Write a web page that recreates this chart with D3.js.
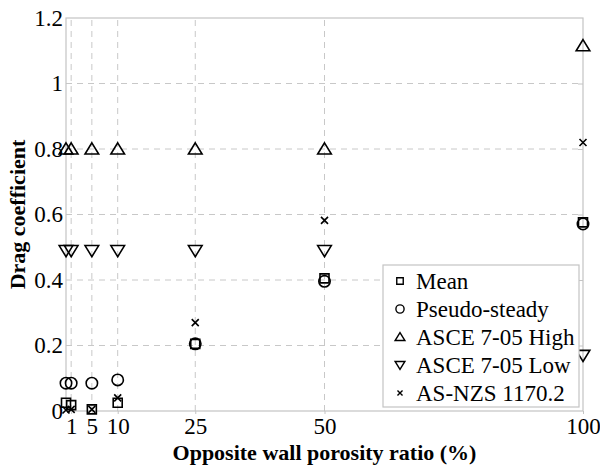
<!DOCTYPE html>
<html>
<head>
<meta charset="utf-8">
<script src="https://cdn.jsdelivr.net/npm/d3@7"></script>
<style>
  body { margin: 0; background: #fff; }
  svg { display: block; font-family: "Liberation Serif", "Times New Roman", serif; }
</style>
</head>
<body>
<svg id="chart" width="600" height="466"></svg>
<script>
"use strict";

// porosity ratio (%) for every column of points
const porosity = [0, 1, 5, 10, 25, 50, 100];
const meanCd = [0.025, 0.018, 0.005, 0.025, 0.205, 0.405, 0.576];
const pseudoSteadyCd = [0.085, 0.085, 0.085, 0.095, 0.205, 0.396, 0.571];
const asceHighCd = [0.8, 0.8, 0.8, 0.8, 0.8, 0.8, 1.115];
const asceLowCd = [0.49, 0.49, 0.49, 0.49, 0.49, 0.49, 0.17];
const asnzsCd = [0.003, 0.005, 0.005, 0.04, 0.27, 0.582, 0.82];

const xTicks = [1, 5, 10, 25, 50, 100];
const yTicks = [0, 0.2, 0.4, 0.6, 0.8, 1, 1.2];
const seriesNames = ["Mean", "Pseudo-steady", "ASCE 7-05 High", "ASCE 7-05 Low", "AS-NZS 1170.2"];

let margins = { top: 18, right: 17, bottom: 55, left: 66 };
let svg = d3.select("#chart");
let width = +svg.attr("width"), height = +svg.attr("height");
let innerW = width - margins.left - margins.right;
let innerH = height - margins.top - margins.bottom;

let xScale = d3.scaleLinear().domain([0, 100]).range([margins.left, margins.left + innerW]);
let yScale = d3.scaleLinear().domain([0, 1.2]).range([margins.top + innerH, margins.top]);

let gridColor = "#c8c8c8";
let frameColor = "#c4c4c4";

// dashed grid
let grid = svg.append("g").attr("class", "grid");
grid.selectAll(".vgrid").data(xTicks.filter(d => d < 100)).enter().append("line")
  .attr("x1", d => xScale(d)).attr("x2", d => xScale(d))
  .attr("y1", yScale(0)).attr("y2", yScale(1.2))
  .style("stroke", gridColor).style("stroke-dasharray", "6,5");
grid.selectAll(".hgrid").data(yTicks.filter(d => d > 0 && d < 1.2)).enter().append("line")
  .attr("x1", xScale(0)).attr("x2", xScale(100))
  .attr("y1", d => yScale(d)).attr("y2", d => yScale(d))
  .style("stroke", gridColor).style("stroke-dasharray", "6,5");

// frame
svg.append("rect")
  .attr("x", xScale(0)).attr("y", yScale(1.2))
  .attr("width", innerW).attr("height", innerH)
  .style("fill", "none").style("stroke", frameColor).style("stroke-width", 1.2);

// axes
let xAxis = d3.axisBottom(xScale).tickValues(xTicks).tickSize(3).tickPadding(4);
let gx = svg.append("g").attr("transform", `translate(0,${yScale(0)})`).call(xAxis);
let yAxis = d3.axisLeft(yScale).tickValues(yTicks).tickSize(0).tickPadding(3)
  .tickFormat(d => d3.format("")(+d.toFixed(1)));
let gy = svg.append("g").attr("transform", `translate(${xScale(0)},0)`).call(yAxis);
let yAxisRight = d3.axisLeft(yScale).tickValues(yTicks.slice(1, -1)).tickSize(5).tickFormat("");
let gyr = svg.append("g").attr("transform", `translate(${xScale(100)},0)`).call(yAxisRight);

[gx, gy, gyr].forEach(g => {
  g.select(".domain").remove();
  g.selectAll(".tick line").style("stroke", frameColor);
  g.selectAll(".tick text").style("font-family", "Liberation Serif").style("font-size", "23px").style("fill", "#000");
});

// axis titles
svg.append("text")
  .attr("x", xScale(50)).attr("y", 460)
  .attr("text-anchor", "middle")
  .style("font-weight", "bold").style("font-size", "22px")
  .text("Opposite wall porosity ratio (%)");
svg.append("text")
  .attr("transform", `translate(25,${yScale(0.6)}) rotate(-90)`)
  .attr("text-anchor", "middle")
  .style("font-weight", "bold").style("font-size", "22px")
  .text("Drag coefficient");

// marker shapes
function markerPath(kind, s) {
  if (kind === "square") return `M${-s},${-s}H${s}V${s}H${-s}Z`;
  if (kind === "circle") return d3.symbol().type(d3.symbolCircle).size(Math.PI * s * s)();
  if (kind === "up") return `M0,${-s}L${s * 1.1},${s * 0.8}L${-s * 1.1},${s * 0.8}Z`;
  if (kind === "down") return `M0,${s}L${s * 1.1},${-s * 0.8}L${-s * 1.1},${-s * 0.8}Z`;
  return `M${-s},${-s}L${s},${s}M${s},${-s}L${-s},${s}`;
}

let series = [
  { name: seriesNames[0], values: meanCd, kind: "square", size: 4.5 },
  { name: seriesNames[1], values: pseudoSteadyCd, kind: "circle", size: 5.7 },
  { name: seriesNames[2], values: asceHighCd, kind: "up", size: 6.2 },
  { name: seriesNames[3], values: asceLowCd, kind: "down", size: 6.2 },
  { name: seriesNames[4], values: asnzsCd, kind: "cross", size: 3.5 }
];

let marks = svg.append("g").attr("class", "marks");
series.forEach(s => {
  marks.append("g").selectAll("path").data(s.values).enter().append("path")
    .attr("transform", (d, i) => `translate(${xScale(porosity[i])},${yScale(d)})`)
    .attr("d", markerPath(s.kind, s.size))
    .style("fill", "none").style("stroke", "#000").style("stroke-width", 1.6);
});

// legend
let legend = svg.append("g").attr("transform", "translate(383,265)");
legend.append("rect").attr("width", 196).attr("height", 142)
  .style("fill", "#fff").style("stroke", frameColor).style("stroke-width", 1.2);
series.forEach((s, i) => {
  let row = legend.append("g").attr("transform", `translate(0,${16 + i * 28})`);
  row.append("path").attr("transform", "translate(17,0)")
    .attr("d", markerPath(s.kind, s.size * 0.72))
    .style("fill", "none").style("stroke", "#000").style("stroke-width", 1.4);
  row.append("text").attr("x", 33).attr("y", 8)
    .style("font-size", "23px").text(s.name);
});
</script>
</body>
</html>
